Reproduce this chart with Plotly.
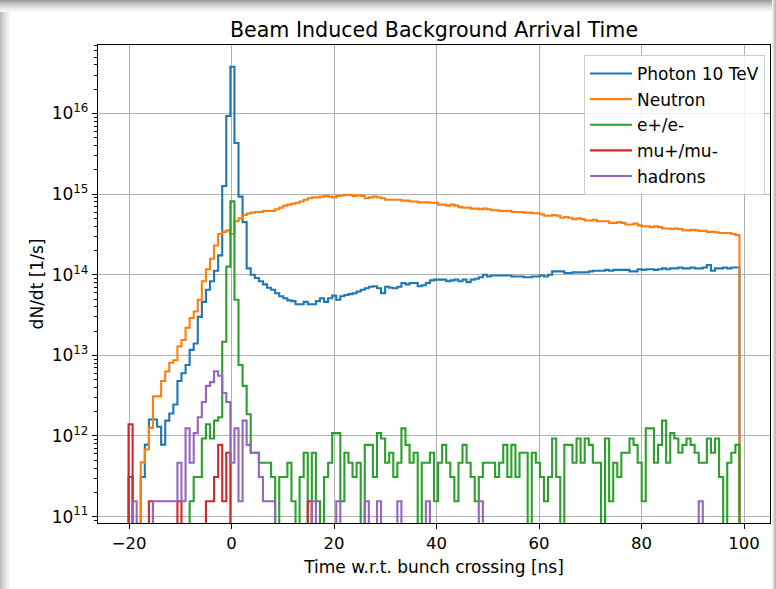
import numpy as np
import plotly.graph_objects as go

# ---------------- data ----------------
time_range_ns = (-20.1, 99.1)   # histogram range
n_bins = 150
rate_per_hit = 1.55e11          # 1/s carried by one simulated hit (low-statistics species)

photon_rate = [
    3.1e11, 0, 0, 3.1e11, 7.8e11, 1.6e12, 1.6e12, 1.3e12, 7.8e11, 1.55e12,
    1.9e12, 2.45e12, 4.8e12, 6.0e12, 7.6e12, 1.17e13, 1.4e13, 3.0e13, 4.6e13, 6.5e13,
    8.3e13, 1.12e14, 1.74e14, 1.26e15, 9.3e15, 3.8e16, 4.3e15, 9.3e14, 4.5e14, 1.2e14,
    1.0e14, 9.1e13, 8.3e13, 7.6e13, 6.9e13, 6.5e13, 5.9e13, 5.4e13, 5.1e13, 4.8e13,
    4.7e13, 4.3e13, 4.3e13, 4.6e13, 4.3e13, 4.3e13, 4.7e13, 5.1e13, 4.6e13, 5.1e13,
    5.5e13, 4.9e13, 5.4e13, 5.6e13, 5.75e13, 5.9e13, 6.2e13, 6.5e13, 6.8e13, 7.1e13,
    7.2e13, 6.8e13, 5.9e13, 7.1e13, 6.9e13, 6.8e13, 7.1e13, 7.9e13, 7.6e13, 7.9e13,
    7.9e13, 7.2e13, 7.4e13, 7.9e13, 8.5e13, 8.7e13, 8.7e13, 8.7e13, 8.3e13, 8.5e13,
    8.7e13, 8.3e13, 8.7e13, 8.1e13, 8.7e13, 8.9e13, 9.3e13, 1.0e14, 9.5e13, 9.8e13,
    9.8e13, 9.8e13, 9.8e13, 9.8e13, 9.5e13, 9.5e13, 9.5e13, 9.3e13, 9.3e13, 9.5e13,
    9.5e13, 9.8e13, 9.5e13, 1.0e14, 1.1e14, 1.1e14, 1.1e14, 1.05e14, 1.05e14, 1.07e14,
    1.07e14, 1.07e14, 1.07e14, 1.1e14, 1.12e14, 1.12e14, 1.12e14, 1.15e14, 1.12e14, 1.15e14,
    1.15e14, 1.15e14, 1.15e14, 1.1e14, 1.1e14, 1.17e14, 1.15e14, 1.17e14, 1.17e14, 1.15e14,
    1.17e14, 1.2e14, 1.17e14, 1.2e14, 1.2e14, 1.23e14, 1.2e14, 1.2e14, 1.23e14, 1.2e14,
    1.2e14, 1.23e14, 1.32e14, 1.12e14, 1.2e14, 1.2e14, 1.23e14, 1.2e14, 1.23e14, 1.23e14,
]

neutron_rate = [
    0, 0, 0, 4.7e11, 6.8e11, 1.26e12, 3.1e12, 3.1e12, 4.8e12, 6.3e12,
    8.1e12, 8.7e12, 1.29e13, 1.55e13, 2.2e13, 2.9e13, 3.5e13, 4.9e13, 8.3e13, 1.17e14,
    1.58e14, 2.3e14, 3.2e14, 3.4e14, 3.55e14, 3.2e14, 4.6e14, 5.0e14, 5.5e14, 5.75e14,
    5.9e14, 6.0e14, 6.0e14, 6.2e14, 6.2e14, 6.2e14, 6.5e14, 6.8e14, 7.2e14, 7.4e14,
    7.6e14, 7.8e14, 8.1e14, 8.5e14, 8.9e14, 9.1e14, 9.1e14, 9.3e14, 9.5e14, 9.3e14,
    9.1e14, 9.5e14, 9.6e14, 9.8e14, 9.8e14, 9.5e14, 9.7e14, 9.5e14, 8.9e14, 9.1e14,
    9.3e14, 9.1e14, 8.9e14, 8.5e14, 8.5e14, 8.5e14, 8.5e14, 8.3e14, 8.3e14, 8.1e14,
    8.1e14, 7.9e14, 7.9e14, 7.9e14, 7.8e14, 7.8e14, 7.4e14, 7.4e14, 7.2e14, 7.4e14,
    7.2e14, 6.9e14, 6.8e14, 6.8e14, 6.6e14, 6.6e14, 6.5e14, 6.6e14, 6.5e14, 6.3e14,
    6.3e14, 6.2e14, 6.2e14, 6.2e14, 6.0e14, 6.0e14, 6.0e14, 5.9e14, 5.9e14, 5.8e14,
    5.8e14, 5.6e14, 5.4e14, 5.4e14, 5.5e14, 5.4e14, 5.1e14, 5.2e14, 5.1e14, 4.9e14,
    5.0e14, 4.9e14, 4.7e14, 4.7e14, 4.8e14, 4.6e14, 4.6e14, 4.6e14, 4.4e14, 4.4e14,
    4.5e14, 4.4e14, 4.2e14, 4.2e14, 4.3e14, 4.1e14, 4.0e14, 4.0e14, 3.9e14, 4.0e14,
    3.9e14, 3.75e14, 3.75e14, 3.7e14, 3.75e14, 3.7e14, 3.55e14, 3.55e14, 3.6e14, 3.55e14,
    3.5e14, 3.5e14, 3.4e14, 3.4e14, 3.35e14, 3.3e14, 3.3e14, 3.3e14, 3.2e14, 3.1e14,
]

# hit counts per bin (multiply by rate_per_hit)
electron_hits = [
    0, 0, 0, 0, 0, 0, 0, 0, 0, 0,
    0, 0, 0, 0, 0, 1, 2, 2, 6, 9,
    6, 10, 11, 95, 813, 5245, 316, 49, 27, 12,
    4, 4, 3, 3, 3, 2, 0, 2, 2, 3,
    1, 0, 2, 4, 0, 4, 1, 0, 2, 3,
    7, 7, 1, 4, 3, 2, 3, 0, 5, 5,
    2, 7, 6, 3, 4, 2, 3, 8, 5, 3,
    4, 0, 3, 3, 4, 1, 3, 5, 3, 2,
    1, 3, 5, 3, 2, 1, 2, 3, 3, 3,
    2, 3, 5, 2, 5, 2, 4, 4, 0, 4,
    3, 2, 1, 2, 6, 2, 0, 5, 5, 3,
    6, 3, 6, 5, 3, 3, 0, 6, 1, 3,
    2, 4, 4, 6, 5, 3, 1, 8, 8, 3,
    5, 10, 3, 7, 6, 4, 5, 6, 5, 4,
    3, 3, 6, 4, 6, 2, 0, 3, 4, 5,
]

muon_hits = [0] * 150
for b, c in {0: 9, 5: 1, 12: 1, 19: 1, 20: 1, 21: 2, 22: 5, 23: 1, 24: 4, 44: 1}.items():
    muon_hits[b] = c

hadron_hits = [0] * 150
for b, c in {1: 1, 6: 1, 7: 1, 8: 1, 9: 1, 10: 1, 11: 1, 12: 3, 13: 1, 14: 8, 15: 3,
             16: 7, 17: 11, 18: 17, 19: 27, 20: 30, 21: 41, 22: 36, 23: 22, 24: 17,
             25: 3, 26: 8, 27: 1, 28: 10, 29: 5, 30: 4, 31: 4, 32: 2, 33: 1, 34: 1,
             35: 1, 45: 1, 51: 1, 58: 1, 61: 1, 66: 1, 73: 1, 86: 1, 140: 1}.items():
    hadron_hits[b] = c

series_names = ["Photon 10 TeV", "Neutron", "e+/e-", "mu+/mu-", "hadrons"]
series_colors = ["#1f77b4", "#ff7f0e", "#2ca02c", "#d62728", "#9467bd"]

x_ticks = [-20, 0, 20, 40, 60, 80, 100]
y_ticks = [1e11, 1e12, 1e13, 1e14, 1e15, 1e16]
y_tick_text = ["10<sup>11</sup>", "10<sup>12</sup>", "10<sup>13</sup>",
               "10<sup>14</sup>", "10<sup>15</sup>", "10<sup>16</sup>"]

# ---------------- figure ----------------
edges = np.linspace(time_range_ns[0], time_range_ns[1], n_bins + 1)
FLOOR = 1e8  # empty bins drop below the axis (like log(0))

series_values = [
    photon_rate,
    neutron_rate,
    [c * rate_per_hit for c in electron_hits],
    [c * rate_per_hit for c in muon_hits],
    [c * rate_per_hit for c in hadron_hits],
]


def step_xy(vals):
    v = [val if val > 0 else FLOOR for val in vals]
    xs = [edges[0]] + list(edges[:-1]) + [edges[-1], edges[-1]]
    ys = [FLOOR] + v + [v[-1], FLOOR]
    return xs, ys


fig = go.Figure()
for name, col, vals in zip(series_names, series_colors, series_values):
    xs, ys = step_xy(vals)
    fig.add_trace(go.Scatter(
        x=xs, y=ys, mode="lines", name=name, legendgroup=name,
        line=dict(color=col, width=2.1, shape="hv"),
        hoverinfo="skip",
    ))

W, H = 776, 589
L, R, T, B = 98, 6, 45, 66
pw, ph = W - L - R, H - T - B


def px2x(px):
    return (px - L) / pw


def py2y(py):
    return (H - B - py) / ph


shapes = []
# window shadow around the screenshot (left, top, right)
left_grays = ["#b9b9b9", "#c4c4c4", "#cdcdcd", "#d5d5d5", "#dcdcdc", "#e2e2e2", "#e8e8e8", "#eeeeee", "#f3f3f3", "#f8f8f8"]
for i, g in enumerate(left_grays):
    shapes.append(dict(type="rect", xref="paper", yref="paper", x0=px2x(i), x1=px2x(i + 1),
                       y0=py2y(H), y1=py2y(0), fillcolor=g, line=dict(width=0), layer="below"))
top_grays = ["#9c9c9c", "#a8a8a8", "#b4b4b4", "#bfbfbf", "#c9c9c9", "#d2d2d2", "#dadada", "#e2e2e2", "#e9e9e9", "#f0f0f0", "#f5f5f5", "#fafafa"]
for i, g in enumerate(top_grays):
    shapes.append(dict(type="rect", xref="paper", yref="paper", x0=px2x(0), x1=px2x(W),
                       y0=py2y(i + 1), y1=py2y(i), fillcolor=g, line=dict(width=0), layer="below"))
right_grays = ["#f0f0f0", "#dcdcdc", "#c8c8c8", "#b8b8b8"]
for i, g in enumerate(right_grays):
    shapes.append(dict(type="rect", xref="paper", yref="paper", x0=px2x(W - 4 + i), x1=px2x(W - 3 + i),
                       y0=py2y(H), y1=py2y(0), fillcolor=g, line=dict(width=0), layer="below"))

minor_y = [m * 10.0 ** e for e in range(10, 17) for m in range(2, 10)]

fig.update_layout(
    width=W, height=H,
    margin=dict(l=L, r=R, t=T, b=B),
    paper_bgcolor="white", plot_bgcolor="white",
    font=dict(family="DejaVu Sans", color="black"),
    title=dict(text="Beam Induced Background Arrival Time", x=px2x(434), xref="paper",
               xanchor="center", y=1 - 30 / H, yref="container", yanchor="middle",
               font=dict(size=20.6, family="DejaVu Sans", color="black")),
    showlegend=True,
    legend=dict(x=px2x(765), y=py2y(55), xanchor="right", yanchor="top",
                bgcolor="rgba(255,255,255,0.8)", bordercolor="#cccccc", borderwidth=1,
                font=dict(size=17, family="DejaVu Sans", color="black"),
                itemwidth=42, tracegroupgap=0.5, traceorder="grouped"),
    shapes=shapes,
)

fig.update_xaxes(
    range=[-26.06, 105.06], tickmode="array", tickvals=x_ticks,
    showgrid=True, gridcolor="#b0b0b0", gridwidth=0.9,
    showline=True, linecolor="black", linewidth=1.3, mirror=True,
    ticks="outside", ticklen=5, tickwidth=1.2, tickcolor="black",
    tickfont=dict(size=16.5, family="DejaVu Sans", color="black"),
    zeroline=False,
    title=dict(text="Time w.r.t. bunch crossing [ns]", standoff=9,
               font=dict(size=17, family="DejaVu Sans", color="black")),
)
fig.update_yaxes(
    type="log", range=[10.92, 16.85], tickmode="array", tickvals=y_ticks, ticktext=y_tick_text,
    showgrid=True, gridcolor="#b0b0b0", gridwidth=0.9,
    showline=True, linecolor="black", linewidth=1.3, mirror=True,
    ticks="outside", ticklen=5, tickwidth=1.2, tickcolor="black",
    tickfont=dict(size=17, family="DejaVu Sans", color="black"),
    minor=dict(tickmode="array", tickvals=minor_y, ticks="outside", ticklen=3,
               tickwidth=1, tickcolor="black", showgrid=False),
    zeroline=False,
    title=dict(text="dN/dt [1/s]", standoff=3,
               font=dict(size=17, family="DejaVu Sans", color="black")),
)

fig.write_html("out.html")
